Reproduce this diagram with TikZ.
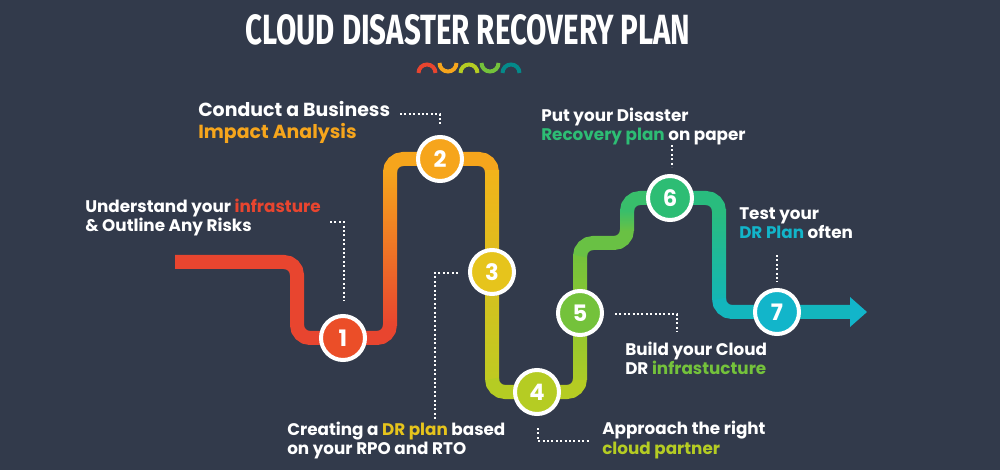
\documentclass[tikz,border=0pt]{standalone}
\usepackage{fontspec}
\usepackage{graphicx}
\setmainfont{Poppins}
\newfontfamily\headfont{Fira Sans}
\usetikzlibrary{shadows}

\definecolor{bg}{HTML}{323A4B}
\definecolor{cRed}{HTML}{E8452F}
\definecolor{cOrange}{HTML}{F6A51C}
\definecolor{cAmber}{HTML}{F3B41A}
\definecolor{cYel}{HTML}{E6C41C}
\definecolor{cLime}{HTML}{B5CC23}
\definecolor{cGreen}{HTML}{74C23B}
\definecolor{cEmer}{HTML}{2DBD74}
\definecolor{cTeal}{HTML}{14B6B4}
\definecolor{cCyan}{HTML}{12B5CA}

\begin{document}
\begin{tikzpicture}[x=0.75pt,y=-0.75pt,
    lbl/.style={font=\bfseries\fontsize{12.6}{14.6}\selectfont,text=white,align=left,inner sep=0pt,anchor=base west},
    road/.style={line width=10.5pt,rounded corners=9.75pt},
    num/.style={circle,draw=white,line width=3pt,minimum size=33pt,inner sep=0pt,text=white,
        font=\bfseries\fontsize{17}{17}\selectfont,drop shadow={opacity=.35,shadow xshift=1pt,shadow yshift=-1.5pt}},
    lead/.style={white,line width=1.5pt,dash pattern=on 1.5pt off 1.8pt}]
\fill[bg] (0,0) rectangle (1000,470);

% heading and the little wave under it
\node[text=white,inner sep=0pt] (title) at (468,30) {\headfont\bfseries\resizebox{333.75pt}{22.5pt}{CLOUD DISASTER RECOVERY PLAN}};
\foreach \cx/\col [count=\i] in {427/cRed,448/cOrange,469/cLime,490/cGreen,511/teal!80!cTeal}{
  \ifodd\i
    \draw[\col,line width=3pt] (\cx-8.5,73) arc (180:360:8.5);
  \else
    \draw[\col,line width=3pt] (\cx-8.5,63) arc (180:0:8.5);
  \fi
}

\coordinate (s) at (175,262);
\coordinate (p1) at (343,338);
\coordinate (p2) at (440,159);
\coordinate (p3) at (492,272);
\coordinate (p4) at (537,392);
\coordinate (p5) at (580,313);
\coordinate (p6) at (670,198);
\coordinate (p7) at (777,312);
\coordinate (e) at (850,312);

% the road, piece by piece
\draw[road,cRed] (s) -- (297,262) -- (297,338) -- (390,338) -- (390,325);
\shade[bottom color=cRed,top color=cOrange] (383,326) rectangle (397,171);
\draw[road,cOrange] (390,172) -- (390,159) -- (492,159) -- (492,172);
\shade[top color=cAmber,middle color=cYel,bottom color=cLime!80!cYel] (485,171) rectangle (499,380);
\draw[road,cLime] (492,379) -- (492,392) -- (580,392) -- (580,379);
\shade[bottom color=cLime!85!cGreen,top color=cGreen] (573,380) rectangle (587,255);
\draw[road,cGreen!85!cEmer] (580,256) -- (580,243) -- (627,243) -- (627,230);
\shade[bottom color=cGreen!85!cEmer,top color=cEmer!85!cGreen] (620,231) rectangle (634,210);
\draw[road,cEmer!85!cGreen] (627,211) -- (627,198) -- (p6);
\draw[road,cEmer!85!cTeal] (p6) -- (719,198) -- (719,211);
\shade[top color=cEmer!85!cTeal,bottom color=cTeal] (712,210) rectangle (726,300);
\draw[road,cTeal!60!cCyan] (719,299) -- (719,312) -- (e);
\fill[cCyan] (850,297) -- (867,312) -- (850,327) -- cycle;

\node[num,fill=cRed!85!orange] (n1) at (p1) {1};
\node[num,fill=cOrange] (n2) at (p2) {2};
\node[num,fill=cYel] (n3) at (p3) {3};
\node[num,fill=cLime] (n4) at (p4) {4};
\node[num,fill=cGreen] (n5) at (p5) {5};
\node[num,fill=cEmer] (n6) at (p6) {6};
\node[num,fill=cCyan] (n7) at (p7) {7};

% labels sit on the baseline of their last line
\node[lbl] (t1) at (85,231.7) {Understand your \textcolor{cRed}{infrasture}\\\& Outline Any Risks};
\node[lbl,font=\bfseries\fontsize{14.2}{16.4}\selectfont] (t2) at (198,138.3) {Conduct a Business\\\textcolor{cOrange}{Impact Analysis}};
\node[lbl] (t3) at (287,455) {Creating a \textcolor{cYel}{DR plan} based\\on your RPO and RTO};
\node[lbl] (t4) at (602,454.3) {Approach the right\\\textcolor{cLime}{cloud partner}};
\node[lbl] (t5) at (625,375) {Build your Cloud\\DR \textcolor{cGreen}{infrastucture}};
\node[lbl] (t6) at (541,140.7) {Put your Disaster\\\textcolor{cEmer}{Recovery plan} on paper};
\node[lbl] (t7) at (739,239) {Test your\\\textcolor{cCyan}{DR Plan} often};

% dotted leaders
\coordinate (a1) at (330,222); \coordinate (b1) at (344,301);
\coordinate (a2) at (400,114); \coordinate (b2) at (440,125);
\coordinate (a3) at (458,273); \coordinate (b3) at (435,420);
\coordinate (a4) at (538,428); \coordinate (b4) at (589,441);
\coordinate (a5) at (615,314); \coordinate (b5) at (677,332);
\draw[lead] (a1) -| (b1);
\draw[lead] (a2) -| (b2);
\draw[lead] (a3) -| (b3);
\draw[lead] (a4) |- (b4);
\draw[lead] (a5) -| (b5);
\draw[lead] (672,145) coordinate (a6) -- (672,167) coordinate (b6);
\draw[lead] (777,255) coordinate (a7) -- (777,282) coordinate (b7);
\end{tikzpicture}
\end{document}
